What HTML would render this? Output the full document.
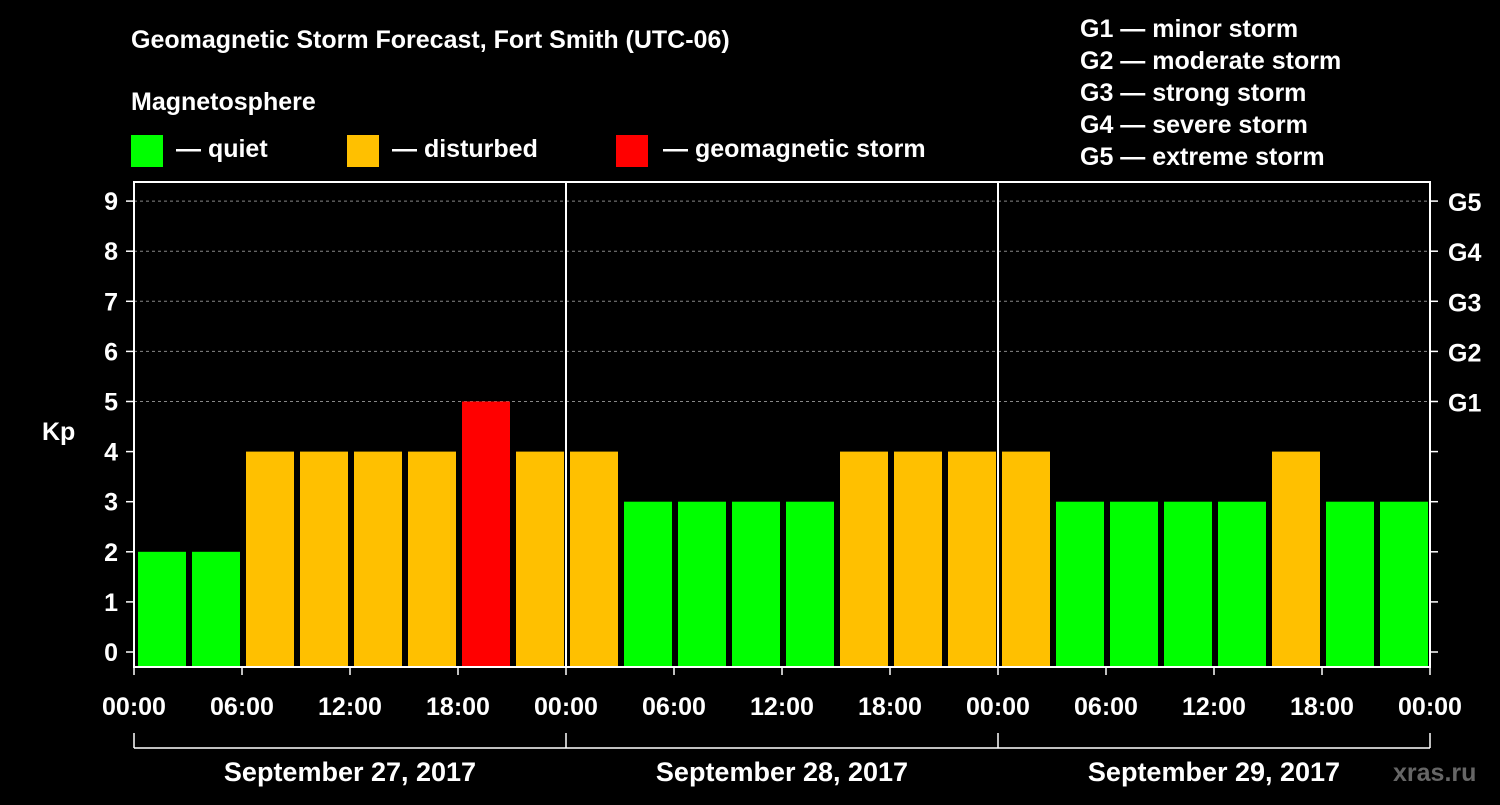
<!DOCTYPE html>
<html><head><meta charset="utf-8"><style>
body{margin:0;background:#000;width:1500px;height:800px;overflow:hidden}
svg text{font-family:"Liberation Sans",Arial,sans-serif;font-weight:bold;fill:#fff}
</style></head><body>
<svg id="c" width="1500" height="800" xmlns="http://www.w3.org/2000/svg">
<rect width="1500" height="800" fill="#000"/>
<text x="131" y="48" font-size="25">Geomagnetic Storm Forecast, Fort Smith (UTC-06)</text>
<text x="131" y="110" font-size="25">Magnetosphere</text>
<g><rect x="131" y="135" width="32" height="32" fill="#00ff00"/><text x="176" y="157" font-size="25">— quiet</text></g>
<g><rect x="347" y="135" width="32" height="32" fill="#ffc000"/><text x="392" y="157" font-size="25">— disturbed</text></g>
<g><rect x="616" y="135" width="32" height="32" fill="#ff0000"/><text x="663" y="157" font-size="25">— geomagnetic storm</text></g>
<g font-size="25">
<text x="1080" y="37">G1 — minor storm</text><text x="1080" y="69">G2 — moderate storm</text><text x="1080" y="101">G3 — strong storm</text><text x="1080" y="133">G4 — severe storm</text><text x="1080" y="165">G5 — extreme storm</text>
</g>
<text x="42" y="440" font-size="25">Kp</text>
<text x="1393" y="781" font-size="25" fill="#666" style="fill:#666">xras.ru</text>
<g id="plot"></g>
</svg>
<script>
const kpValues=[2,2,4,4,4,4,5,4, 4,3,3,3,3,4,4,4, 4,3,3,3,3,4,3,3];
const yTicks=[0,1,2,3,4,5,6,7,8,9];
const gLabels=["G1","G2","G3","G4","G5"];
const gLevels=[5,6,7,8,9];
const hourLabels=["00:00","06:00","12:00","18:00"];
const dayLabels=["September 27, 2017","September 28, 2017","September 29, 2017"];
const NS="http://www.w3.org/2000/svg";
const g=document.getElementById('plot');
const X0=134,X1=1430,YT=182,YB=667,Y0=652,PY=50.1;
const slot=(X1-X0)/kpValues.length;
const y=v=>Y0-v*PY;
const x=i=>X0+i*slot;
function mk(t,a){const e=document.createElementNS(NS,t);for(const k in a)e.setAttribute(k,a[k]);g.appendChild(e);return e;}
gLevels.forEach((v,i)=>{
 const l=mk('line',{x1:X0,x2:X1,y1:y(v),y2:y(v),stroke:'#888','stroke-dasharray':'3,3','stroke-width':1});
 
 
 const t=mk('text',{x:1448,y:y(v)+10,'font-size':25});t.textContent=gLabels[i];
 
 
});
kpValues.forEach((v,i)=>{
 const c=v>=5?'#ff0000':v>=4?'#ffc000':'#00ff00';
 const r=mk('rect',{x:x(i)+4,y:y(v),width:slot-6,height:YB-y(v),fill:c});
 
 
});
mk('rect',{x:X0,y:YT,width:X1-X0,height:YB-YT,fill:'none',stroke:'#fff','stroke-width':2});
yTicks.forEach(v=>{
 mk('line',{x1:X0-8,x2:X0,y1:y(v),y2:y(v),stroke:'#fff','stroke-width':1.5});
 mk('line',{x1:X1,x2:X1+8,y1:y(v),y2:y(v),stroke:'#fff','stroke-width':1.5});
 const t=mk('text',{x:X0-16,y:y(v)+9,'font-size':25,'text-anchor':'end'});t.textContent=v;
 
 
});
const dayW=(X1-X0)/dayLabels.length;
for(let d=0;d<dayLabels.length;d++){
 if(d>0){const s=mk('line',{x1:X0+d*dayW,x2:X0+d*dayW,y1:YT,y2:YB,stroke:'#fff','stroke-width':2});
  }
 hourLabels.forEach((h,j)=>{
  const xx=X0+d*dayW+j*dayW/4;
  mk('line',{x1:xx,x2:xx,y1:YB,y2:YB+8,stroke:'#fff','stroke-width':1.5});
  const t=mk('text',{x:xx,y:715,'font-size':25,'text-anchor':'middle'});t.textContent=h;
  
  
 });
 const t=mk('text',{x:X0+d*dayW+dayW/2,y:781,'font-size':27,'text-anchor':'middle'});t.textContent=dayLabels[d];
 
 
}
mk('line',{x1:X1,x2:X1,y1:YB,y2:YB+8,stroke:'#fff','stroke-width':1.5});
const et=mk('text',{x:X1,y:715,'font-size':25,'text-anchor':'middle'});et.textContent="00:00";


mk('line',{x1:X0,x2:X1,y1:748,y2:748,stroke:'#fff','stroke-width':1.5});
for(let d=0;d<=dayLabels.length;d++){mk('line',{x1:X0+d*dayW,x2:X0+d*dayW,y1:733,y2:748,stroke:'#fff','stroke-width':1.5});}
</script>
</body></html>
